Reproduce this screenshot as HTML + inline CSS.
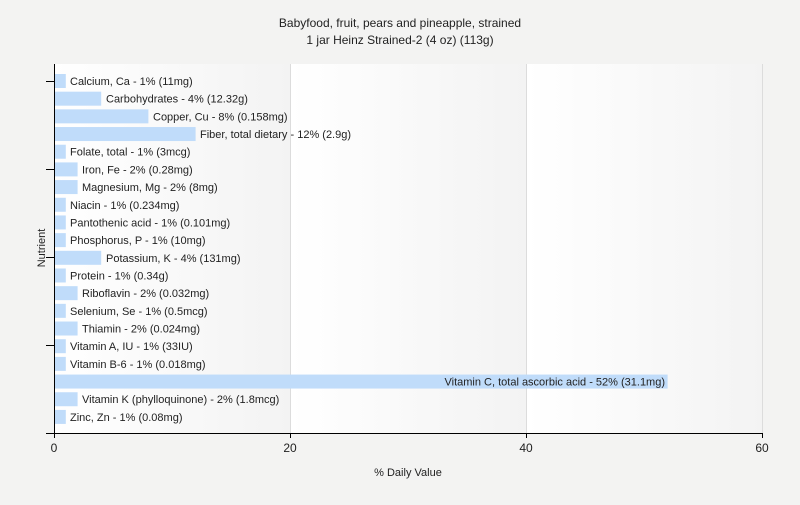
<!DOCTYPE html>
<html><head><style>
body{margin:0;background:#f3f3f2;}
svg text{font-family:"Liberation Sans",sans-serif;fill:#222;}
</style></head><body>
<svg width="800" height="500" xmlns="http://www.w3.org/2000/svg">
<defs>
<linearGradient id="g" x1="0" x2="1" y1="0" y2="0">
<stop offset="0" stop-color="#ffffff"/><stop offset="1" stop-color="#f3f3f3"/>
</linearGradient>
</defs>
<rect width="800" height="500" fill="#f3f3f2"/>
<rect x="54" y="64" width="236" height="369" fill="url(#g)"/>
<rect x="290" y="64" width="236" height="369" fill="url(#g)"/>
<rect x="526" y="64" width="237" height="369" fill="url(#g)"/>
<g stroke="#dcdcdc" stroke-width="1">
<line x1="290.5" y1="64" x2="290.5" y2="433"/>
<line x1="526.5" y1="64" x2="526.5" y2="433"/>
<line x1="762.5" y1="64" x2="762.5" y2="433"/>
</g>
<text x="400" y="27" text-anchor="middle" font-size="12">Babyfood, fruit, pears and pineapple, strained</text>
<text x="400" y="44" text-anchor="middle" font-size="12">1 jar Heinz Strained-2 (4 oz) (113g)</text>
<g fill="#c0dcfa">
<rect x="55" y="74" width="10.8" height="14"/>
<rect x="55" y="91.68" width="46.2" height="14"/>
<rect x="55" y="109.36" width="93.4" height="14"/>
<rect x="55" y="127.04" width="140.6" height="14"/>
<rect x="55" y="144.72" width="10.8" height="14"/>
<rect x="55" y="162.4" width="22.6" height="14"/>
<rect x="55" y="180.08" width="22.6" height="14"/>
<rect x="55" y="197.76" width="10.8" height="14"/>
<rect x="55" y="215.44" width="10.8" height="14"/>
<rect x="55" y="233.12" width="10.8" height="14"/>
<rect x="55" y="250.8" width="46.2" height="14"/>
<rect x="55" y="268.48" width="10.8" height="14"/>
<rect x="55" y="286.16" width="22.6" height="14"/>
<rect x="55" y="303.84" width="10.8" height="14"/>
<rect x="55" y="321.52" width="22.6" height="14"/>
<rect x="55" y="339.2" width="10.8" height="14"/>
<rect x="55" y="356.88" width="10.8" height="14"/>
<rect x="55" y="374.56" width="612.6" height="14"/>
<rect x="55" y="392.24" width="22.6" height="14"/>
<rect x="55" y="409.92" width="10.8" height="14"/>
</g>
<g font-size="11">
<text x="70" y="85">Calcium, Ca - 1% (11mg)</text>
<text x="106" y="102.7">Carbohydrates - 4% (12.32g)</text>
<text x="153" y="120.4">Copper, Cu - 8% (0.158mg)</text>
<text x="200" y="138">Fiber, total dietary - 12% (2.9g)</text>
<text x="70" y="155.7">Folate, total - 1% (3mcg)</text>
<text x="82" y="173.4">Iron, Fe - 2% (0.28mg)</text>
<text x="82" y="191.1">Magnesium, Mg - 2% (8mg)</text>
<text x="70" y="208.8">Niacin - 1% (0.234mg)</text>
<text x="70" y="226.4">Pantothenic acid - 1% (0.101mg)</text>
<text x="70" y="244.1">Phosphorus, P - 1% (10mg)</text>
<text x="106" y="261.8">Potassium, K - 4% (131mg)</text>
<text x="70" y="279.5">Protein - 1% (0.34g)</text>
<text x="82" y="297.2">Riboflavin - 2% (0.032mg)</text>
<text x="70" y="314.8">Selenium, Se - 1% (0.5mcg)</text>
<text x="82" y="332.5">Thiamin - 2% (0.024mg)</text>
<text x="70" y="350.2">Vitamin A, IU - 1% (33IU)</text>
<text x="70" y="367.9">Vitamin B-6 - 1% (0.018mg)</text>
<text x="665" y="385.6" text-anchor="end">Vitamin C, total ascorbic acid - 52% (31.1mg)</text>
<text x="82" y="403.2">Vitamin K (phylloquinone) - 2% (1.8mcg)</text>
<text x="70" y="420.9">Zinc, Zn - 1% (0.08mg)</text>
</g>
<g stroke="#000" stroke-width="1">
<line x1="54.5" y1="64" x2="54.5" y2="434"/>
<line x1="46" y1="433.5" x2="763" y2="433.5"/>
<line x1="46" y1="81.5" x2="54" y2="81.5"/>
<line x1="46" y1="169.5" x2="54" y2="169.5"/>
<line x1="46" y1="257.5" x2="54" y2="257.5"/>
<line x1="46" y1="345.5" x2="54" y2="345.5"/>
<line x1="54.5" y1="433" x2="54.5" y2="438"/>
<line x1="290.5" y1="433" x2="290.5" y2="438"/>
<line x1="526.5" y1="433" x2="526.5" y2="438"/>
<line x1="762.5" y1="433" x2="762.5" y2="438"/>
</g>
<g font-size="12" text-anchor="middle">
<text x="54" y="452">0</text><text x="290" y="452">20</text><text x="526" y="452">40</text><text x="762" y="452">60</text>
</g>
<text x="408" y="476" text-anchor="middle" font-size="11">% Daily Value</text>
<text transform="translate(45,248) rotate(-90)" text-anchor="middle" font-size="11">Nutrient</text>
</svg>
</body></html>
